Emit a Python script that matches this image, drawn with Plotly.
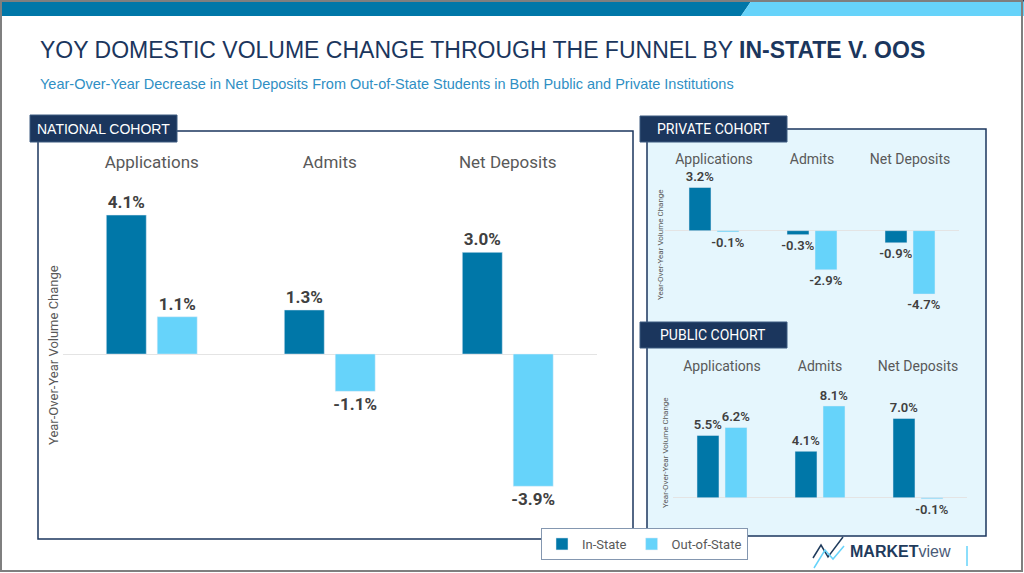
import plotly.graph_objects as go

W, H = 1024, 573

categories = ["Applications", "Admits", "Net Deposits"]
national_in = [4.1, 1.3, 3.0]
national_oos = [1.1, -1.1, -3.9]
private_in = [3.2, -0.3, -0.9]
private_oos = [-0.1, -2.9, -4.7]
public_in = [5.5, 4.1, 7.0]
public_oos = [6.2, 8.1, -0.1]

IN_COLOR = "#0077a8"
OOS_COLOR = "#66d3fa"
NAVY = "#1b365d"
GRAY = "#595959"
HEAD = "Liberation Sans, Arial, sans-serif"
SANS = "Roboto, Arial, sans-serif"


def px(x):
    return x / W


def py(y):
    return 1 - y / H


def bars(x, y, name, color, xa, ya, size, weight, legend):
    return go.Bar(
        x=x, y=y, name=name, marker_color=color, xaxis=xa, yaxis=ya,
        texttemplate="%{y:.1f}%", textposition="outside", cliponaxis=False,
        constraintext="none", showlegend=legend, legendgroup=name,
        textfont=dict(family=SANS, size=size, color="#404040", weight=weight),
        hoverinfo="skip",
    )


fig = go.Figure()
fig.add_trace(bars(categories, national_in, "In-State", IN_COLOR, "x", "y", 17, 700, True))
fig.add_trace(bars(categories, national_oos, "Out-of-State", OOS_COLOR, "x", "y", 17, 700, True))
fig.add_trace(bars(categories, private_in, "In-State", IN_COLOR, "x2", "y2", 13, 600, False))
fig.add_trace(bars(categories, private_oos, "Out-of-State", OOS_COLOR, "x2", "y2", 13, 600, False))
fig.add_trace(bars(categories, public_in, "In-State", IN_COLOR, "x3", "y3", 13, 600, False))
fig.add_trace(bars(categories, public_oos, "Out-of-State", OOS_COLOR, "x3", "y3", 13, 600, False))


def xax(x0, x1, anchor, size):
    return dict(domain=[px(x0), px(x1)], side="top", anchor=anchor, showline=False,
                ticks="", showgrid=False, fixedrange=True,
                tickfont=dict(family=SANS, size=size, color=GRAY))


def yax(top, bottom, rng, anchor):
    return dict(domain=[py(bottom), py(top)], range=rng, anchor=anchor,
                showticklabels=False, showgrid=False, zeroline=True,
                zerolinecolor="#e4e4e4", zerolinewidth=1, fixedrange=True)


shapes = []


def rect(x0, y0, x1, y1, fill=None, line=None, lw=1.5, layer="below"):
    shapes.append(dict(type="rect", xref="paper", yref="paper",
                       x0=px(x0), x1=px(x1), y0=py(y1), y1=py(y0),
                       fillcolor=fill or "rgba(0,0,0,0)",
                       line=dict(color=line or "rgba(0,0,0,0)", width=lw if line else 0),
                       layer=layer))


def path(points, fill=None, line=None, lw=1.5, closed=True):
    d = "M " + " L ".join(f"{px(x):.5f},{py(y):.5f}" for x, y in points)
    if closed:
        d += " Z"
    shapes.append(dict(type="path", xref="paper", yref="paper", path=d,
                       fillcolor=fill or "rgba(0,0,0,0)",
                       line=dict(color=line or "rgba(0,0,0,0)", width=lw if line else 0),
                       layer="above"))


# header band
path([(0, 0), (752, 0), (741, 16), (0, 16)], fill=IN_COLOR)
path([(752, 0), (1024, 0), (1024, 16), (741, 16)], fill=OOS_COLOR)
rect(0, 0, 1024, 1.5, fill="#1f3b5c", layer="above")

# panels
rect(38, 131, 633, 539, line=NAVY)
rect(30, 115, 177, 142, fill=NAVY, line="#3d5a80", lw=1)
rect(647, 129, 986, 536, fill="#e5f6fd", line=NAVY)
rect(640, 116, 787, 142, fill=NAVY, line="#3d5a80", lw=1)
rect(640, 322, 787, 348, fill=NAVY, line="#3d5a80", lw=1)

# outer frame
rect(1, 1, 1022, 571, line="#7f7f7f", lw=2, layer="above")

# logo
path([(813, 558), (821, 545), (828, 557), (843, 537)], line="#1f3b5c", lw=1.5, closed=False)
path([(814, 568), (825, 550), (833, 559), (844, 546)], line=OOS_COLOR, lw=1.5, closed=False)
path([(967, 546), (967, 566)], line=OOS_COLOR, lw=1.5, closed=False)

annotations = [
    dict(x=px(38), y=py(50), xanchor="left", yanchor="middle",
         text="YOY DOMESTIC VOLUME CHANGE THROUGH THE FUNNEL BY <b>IN-STATE V. OOS</b>",
         font=dict(family=HEAD, size=23, color=NAVY)),
    dict(x=px(38), y=py(84), xanchor="left", yanchor="middle",
         text="Year-Over-Year Decrease in Net Deposits From Out-of-State Students in Both Public and Private Institutions",
         font=dict(family=HEAD, size=14.5, color="#2f8fc4")),
    dict(x=px(103), y=py(129), xanchor="center", yanchor="middle", text="NATIONAL COHORT",
         font=dict(family=HEAD, size=14, color="white")),
    dict(x=px(713), y=py(129), xanchor="center", yanchor="middle", text="PRIVATE COHORT",
         font=dict(family=SANS, size=14, color="white")),
    dict(x=px(713), y=py(335), xanchor="center", yanchor="middle", text="PUBLIC COHORT",
         font=dict(family=SANS, size=14, color="white")),
    dict(x=px(53), y=py(355), textangle=-90, xanchor="center", yanchor="middle",
         text="Year-Over-Year Volume Change", font=dict(family=SANS, size=13, color=GRAY)),
    dict(x=px(660), y=py(245), textangle=-90, xanchor="center", yanchor="middle",
         text="Year-Over-Year Volume Change", font=dict(family=SANS, size=8, color=GRAY)),
    dict(x=px(665), y=py(453), textangle=-90, xanchor="center", yanchor="middle",
         text="Year-Over-Year Volume Change", font=dict(family=SANS, size=8, color=GRAY)),
    dict(x=px(848), y=py(551), xanchor="left", yanchor="middle",
         text="<b>MARKET</b><span style='color:#4a5a78'>view</span>",
         font=dict(family=HEAD, size=16, color="#1f3b5c")),
]
for a in annotations:
    a.update(xref="paper", yref="paper", showarrow=False)

fig.update_layout(
    width=W, height=H, autosize=False,
    margin=dict(l=0, r=0, t=0, b=0, pad=0),
    paper_bgcolor="white", plot_bgcolor="rgba(0,0,0,0)",
    barmode="group", bargap=0.428, bargroupgap=0.215,
    xaxis=xax(62.75, 596.75, "y", 17),
    yaxis=yax(172, 530, [-5.19, 5.37], "x"),
    xaxis2=xax(665, 959, "y2", 14),
    yaxis2=yax(168, 318, [-6.47, 4.64], "x2"),
    xaxis3=xax(673, 967, "y3", 14),
    yaxis3=yax(375, 520, [-1.97, 10.83], "x3"),
    shapes=shapes, annotations=annotations,
    showlegend=True,
    legend=dict(orientation="h", x=px(541), y=py(528), xanchor="left", yanchor="top",
                bgcolor="white", bordercolor="#8497b0", borderwidth=1,
                font=dict(family=SANS, size=13, color=GRAY), itemwidth=30,
                traceorder="normal"),
)

fig.write_html("out.html", config={"displayModeBar": False},
               post_script="document.body.style.margin='0';")
